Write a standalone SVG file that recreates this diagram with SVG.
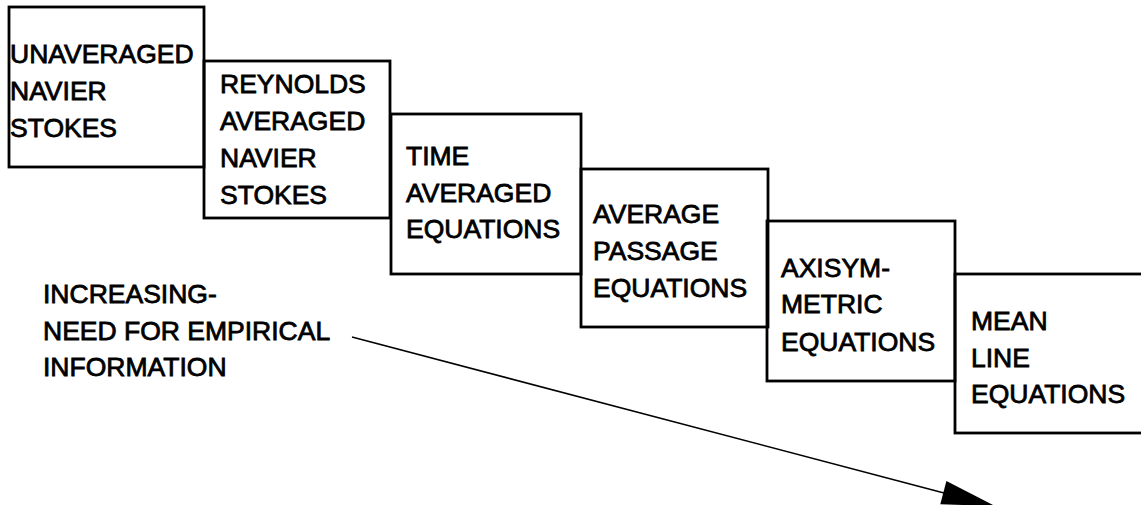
<svg xmlns="http://www.w3.org/2000/svg" width="1141" height="505" viewBox="0 0 1141 505">
<defs>
<style>
.box{fill:none;stroke:#000;stroke-width:2.8}
.t{font-family:"Liberation Sans",Arial,Helvetica,sans-serif;font-size:26.5px;fill:#000;stroke:#000;stroke-width:0.8}
.conn{stroke:#000;stroke-width:1.5;fill:none}
</style>
</defs>
<rect width="1141" height="505" fill="#fff"/>
<g id="node-unaveraged">
<rect class="box" x="9" y="7" width="195" height="160"/>
<text class="t" x="10" y="63">UNAVERAGED</text>
<text class="t" x="10" y="100">NAVIER</text>
<text class="t" x="10" y="137">STOKES</text>
</g>
<g id="node-reynolds">
<rect class="box" x="204" y="61" width="186" height="157"/>
<text class="t" x="220" y="93">REYNOLDS</text>
<text class="t" x="220" y="130">AVERAGED</text>
<text class="t" x="220" y="167">NAVIER</text>
<text class="t" x="220" y="204">STOKES</text>
</g>
<g id="node-time">
<rect class="box" x="391" y="114" width="190" height="160"/>
<text class="t" x="406" y="165">TIME</text>
<text class="t" x="406" y="202">AVERAGED</text>
<text class="t" x="406" y="238">EQUATIONS</text>
</g>
<g id="node-passage">
<rect class="box" x="581" y="169" width="187" height="158"/>
<text class="t" x="593" y="223">AVERAGE</text>
<text class="t" x="593" y="260">PASSAGE</text>
<text class="t" x="593" y="297">EQUATIONS</text>
</g>
<g id="node-axisym">
<rect class="box" x="767" y="221" width="188" height="160"/>
<text class="t" x="781" y="277">AXISYM-</text>
<text class="t" x="781" y="313">METRIC</text>
<text class="t" x="781" y="351">EQUATIONS</text>
</g>
<g id="node-meanline">
<rect class="box" x="955" y="274" width="200" height="159"/>
<text class="t" x="971" y="330">MEAN</text>
<text class="t" x="971" y="367">LINE</text>
<text class="t" x="971" y="403">EQUATIONS</text>
</g>
<g id="label-empirical">
<text class="t" x="43" y="303">INCREASING-</text>
<text class="t" x="43" y="340">NEED FOR EMPIRICAL</text>
<text class="t" x="43" y="376">INFORMATION</text>
</g>
<g id="connectors">
<line class="conn" x1="352" y1="337" x2="944" y2="493"/>
<polygon points="995,506 946.4,481.1 940.3,504.3" fill="#000"/>
</g>
</svg>
